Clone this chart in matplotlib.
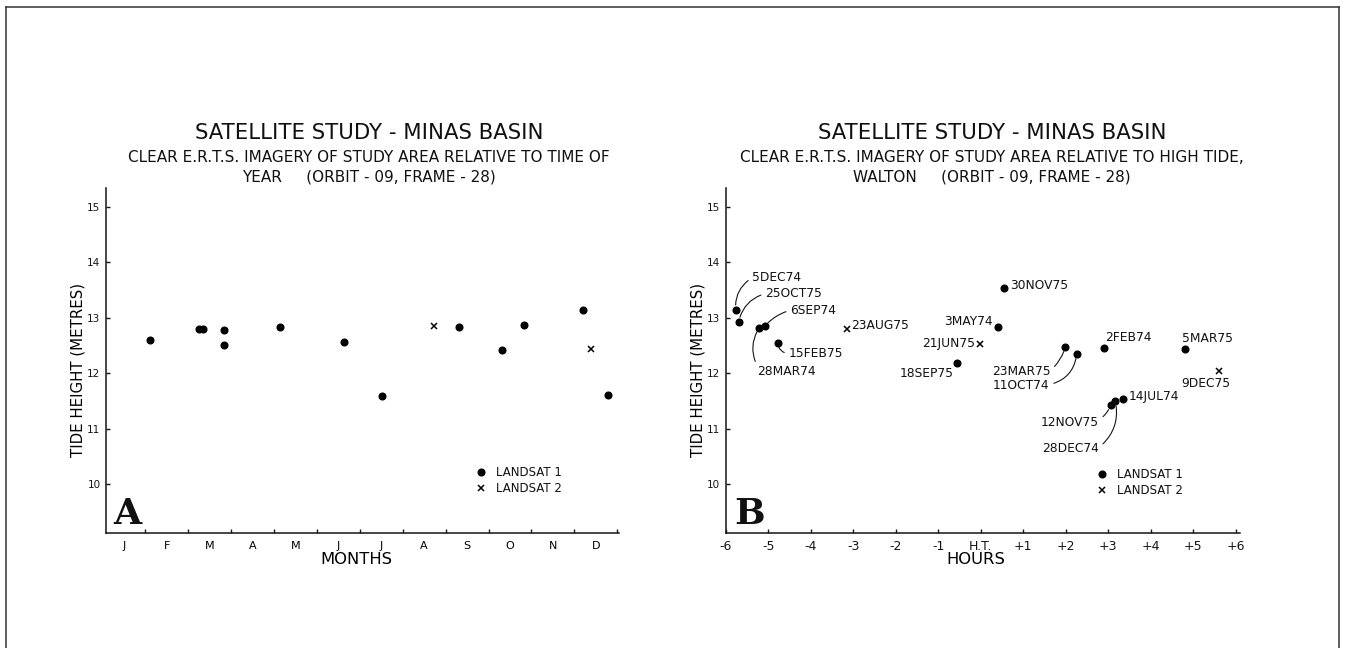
import matplotlib
matplotlib.use('Agg')
import matplotlib.pyplot as plt
from matplotlib.lines import Line2D

plt.rcParams['font.family'] = ['DejaVu Sans']
plt.rcParams['text.color'] = '#111111'

# panel A - tide height against time of year (x = months from 1 Jan)
month_labels = ['J', 'F', 'M', 'A', 'M', 'J', 'J', 'A', 'S', 'O', 'N', 'D']
a_l1_month = [1.11, 2.25, 2.34, 2.83, 2.83, 4.15, 5.63, 6.51, 8.30, 9.32, 9.82, 11.19, 11.79]
a_l1_tide = [12.59, 12.79, 12.79, 12.78, 12.50, 12.83, 12.56, 11.59, 12.83, 12.42, 12.87, 13.14, 11.61]
a_l2_month = [7.73, 11.38]
a_l2_tide = [12.84, 12.44]

# panel B - tide height against hours from high tide at Walton
b_l1_dates = ['5DEC74', '25OCT75', '28MAR74', '6SEP74', '15FEB75', '18SEP75', '3MAY74',
              '30NOV75', '23MAR75', '11OCT74', '2FEB74', '5MAR75', '12NOV75', '28DEC74', '14JUL74']
b_l1_hours = [-5.77, -5.70, -5.21, -5.09, -4.78, -0.55, 0.40, 0.55, 1.99, 2.26, 2.90, 4.80, 3.06, 3.17, 3.35]
b_l1_tide = [13.14, 12.92, 12.82, 12.84, 12.55, 12.18, 12.83, 13.53, 12.47, 12.35, 12.46, 12.43, 11.42, 11.49, 11.54]
b_l2_dates = ['23AUG75', '21JUN75', '9DEC75']
b_l2_hours = [-3.15, -0.01, 5.60]
b_l2_tide = [12.80, 12.53, 12.04]

hour_ticks = list(range(-6, 7))
hour_labels = ['-6', '-5', '-4', '-3', '-2', '-1', 'H.T.', '+1', '+2', '+3', '+4', '+5', '+6']
tide_ticks = [10, 11, 12, 13, 14, 15]

title = 'SATELLITE STUDY - MINAS BASIN'
sub_a = ['CLEAR E.R.T.S. IMAGERY OF STUDY AREA RELATIVE TO TIME OF',
         'YEAR     (ORBIT - 09, FRAME - 28)']
sub_b = ['CLEAR E.R.T.S. IMAGERY OF STUDY AREA RELATIVE TO HIGH TIDE,',
         'WALTON     (ORBIT - 09, FRAME - 28)']

# label placement for panel B: text x, text y, alignment, leader curvature
l1_lab_x = [-5.385, -5.08, -5.27, -4.49, -4.53, -0.633, 0.28, 0.70, 1.65, 1.625, 2.92, 4.73, 2.79, 2.79, 3.48]
l1_lab_y = [13.716, 13.43, 12.02, 13.13, 12.35, 11.99, 12.93, 13.58, 12.03, 11.77, 12.64, 12.62, 11.11, 10.64, 11.57]
l1_lab_ha = ['left', 'left', 'left', 'left', 'left', 'right', 'right', 'left', 'right', 'right',
             'left', 'left', 'right', 'right', 'left']
l1_rad = [0.3, 0.3, -0.3, 0.15, -0.4, None, None, None, 0.15, 0.35, None, None, 0.15, 0.3, None]
l1_rel = [(0, 0.5), (0, 0.5), (0.02, 0.85), (0, 0.5), (0, 0.5), None, None, None,
          (1, 0.6), (1, 0.6), None, None, (1, 0.7), (1, 0.6), None]
l2_lab_x = [-3.06, -0.125, 4.71]
l2_lab_y = [12.86, 12.54, 11.81]
l2_lab_ha = ['left', 'right', 'left']

W, H = 1346, 648
fig = plt.figure(figsize=(W / 100, H / 100), dpi=100)
fig.patch.set_facecolor('white')

axA = fig.add_axes([0.07875, 0.17747, 0.38143, 0.53194])
axB = fig.add_axes([0.53930, 0.17747, 0.38180, 0.53194])

for ax in (axA, axB):
    for s in ('top', 'right'):
        ax.spines[s].set_visible(False)
    for s in ('left', 'bottom'):
        ax.spines[s].set_linewidth(1.1)
        ax.spines[s].set_color('#151515')
    ax.set_ylim(9.117, 15.33)
    ax.set_yticks(tide_ticks)
    ax.set_yticklabels([str(t) for t in tide_ticks])
    ax.tick_params(axis='both', which='major', direction='in', length=3, width=1,
                   labelsize=7.5, pad=4, colors='#151515')
    ax.set_ylabel('TIDE HEIGHT (METRES)', fontsize=10.8, va='center')
    ax.yaxis.set_label_coords(-0.0536, 0.473)

# ---- panel A
axA.set_xlim(0.084, 12.05)
axA.set_xticks(range(1, 13))
axA.set_xticklabels([])
axA.set_xticks([i + 0.5 for i in range(12)], minor=True)
axA.set_xticklabels(month_labels, minor=True)
axA.tick_params(axis='x', which='minor', length=0, labelsize=8, pad=5.5)
axA.plot(a_l1_month, a_l1_tide, 'o', color='black', ms=4.8, label='LANDSAT 1')
axA.plot(a_l2_month, a_l2_tide, 'x', color='black', ms=4.5, mew=1.1, label='LANDSAT 2')
axA.set_xlabel('MONTHS', fontsize=11.8, va='center')
axA.xaxis.set_label_coords(0.487, -0.0763)
axA.text(0.0142, 0.0247, 'A', transform=axA.transAxes, fontfamily='DejaVu Serif',
         fontweight='bold', fontsize=26, ha='left', va='baseline')
axA.legend(loc='center left', bbox_to_anchor=(0.7191, 0.1517), frameon=False, fontsize=8.5,
           handlelength=1.0, handletextpad=0.75, borderpad=0, borderaxespad=0,
           labelspacing=0.25, numpoints=1)

# ---- panel B
axB.set_xlim(-6, 6.1)
axB.set_xticks(hour_ticks)
axB.set_xticklabels(hour_labels)
axB.tick_params(axis='x', which='major', pad=5, labelsize=9)
axB.plot(b_l1_hours, b_l1_tide, 'o', color='black', ms=4.8, label='LANDSAT 1')
axB.plot(b_l2_hours, b_l2_tide, 'x', color='black', ms=4.5, mew=1.1, label='LANDSAT 2')
axB.set_xlabel('HOURS', fontsize=11.8, va='center')
axB.xaxis.set_label_coords(0.4855, -0.0763)
axB.text(0.0154, 0.026, 'B', transform=axB.transAxes, fontfamily='DejaVu Serif',
         fontweight='bold', fontsize=26, ha='left', va='baseline')
axB.legend(loc='center left', bbox_to_anchor=(0.7204, 0.1465), frameon=False, fontsize=8.5,
           handlelength=1.0, handletextpad=0.75, borderpad=0, borderaxespad=0,
           labelspacing=0.25, numpoints=1)

for i, name in enumerate(b_l1_dates):
    kw = dict(ha=l1_lab_ha[i], va='center', fontsize=8.8)
    if l1_rad[i] is not None:
        kw['arrowprops'] = dict(arrowstyle='-', lw=0.8, color='#151515', shrinkA=1, shrinkB=3.5,
                                connectionstyle='arc3,rad=%s' % l1_rad[i], relpos=l1_rel[i])
    axB.annotate(name, xy=(b_l1_hours[i], b_l1_tide[i]), xytext=(l1_lab_x[i], l1_lab_y[i]), **kw)
for i, name in enumerate(b_l2_dates):
    axB.annotate(name, xy=(b_l2_hours[i], b_l2_tide[i]), xytext=(l2_lab_x[i], l2_lab_y[i]),
                 ha=l2_lab_ha[i], va='center', fontsize=8.8)

# titles
for cx, sub in ((369 / W, sub_a), (992 / W, sub_b)):
    fig.text(cx, 1 - 133 / H, title, ha='center', va='center', fontsize=15.3)
    fig.text(cx, 1 - 157.7 / H, sub[0], ha='center', va='center', fontsize=11)
    fig.text(cx, 1 - 177 / H, sub[1], ha='center', va='center', fontsize=11)

# page border (left, top, right)
for xs, ys in (([6 / W, 6 / W], [0, 1 - 7 / H]),
               ([6 / W, 1339 / W], [1 - 7 / H, 1 - 7 / H]),
               ([1339 / W, 1339 / W], [1 - 7 / H, 0])):
    fig.add_artist(Line2D(xs, ys, transform=fig.transFigure, color='#333333', lw=1.1))

fig.savefig('out.png', dpi=100)
